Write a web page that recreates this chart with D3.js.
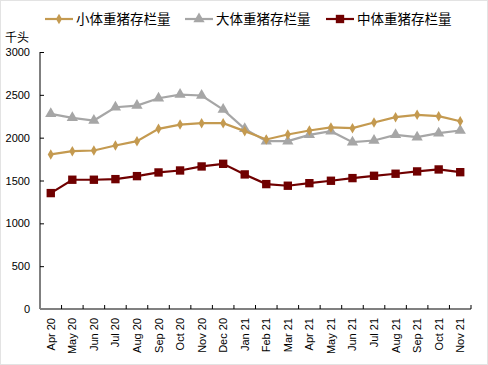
<!DOCTYPE html>
<html><head><meta charset="utf-8">
<script src="https://cdn.jsdelivr.net/npm/d3@7"></script>
<style>body{margin:0;background:#fff}svg{display:block}</style>
</head><body><svg id="c" width="488" height="365"></svg>
<script>
const categories = ["Apr 20","May 20","Jun 20","Jul 20","Aug 20","Sep 20","Oct 20","Nov 20","Dec 20","Jan 21","Feb 21","Mar 21","Apr 21","May 21","Jun 21","Jul 21","Aug 21","Sep 21","Oct 21","Nov 21"];
const small = [1804,1842,1850,1909,1959,2103,2153,2169,2169,2076,1979,2037,2084,2119,2111,2177,2239,2267,2251,2192];
const large = [2278,2232,2200,2355,2375,2460,2503,2492,2328,2103,1959,1959,2033,2076,1947,1967,2033,2006,2052,2084];
const medium = [1353,1509,1509,1516,1551,1594,1617,1664,1695,1571,1458,1439,1469,1497,1528,1555,1579,1606,1629,1597];
const yTicks = [0,500,1000,1500,2000,2500,3000];
const seriesNames = ["小体重猪存栏量","大体重猪存栏量","中体重猪存栏量"];

const svg = d3.select("#c");
svg.append("rect").attr("x",0.5).attr("y",0.5).attr("width",487).attr("height",364).attr("fill","#fff").attr("stroke","#e3e3e3");

const m = {l:40, r:471, t:52, b:309};
const x = d3.scaleBand().domain(categories).range([m.l, m.r]);
const y = d3.scaleLinear().domain([0,3000]).range([m.b, m.t]);
const font = "'Liberation Sans', Arial, sans-serif";

// y axis
const ya = svg.append("g").attr("transform",`translate(${m.l},0)`)
  .call(d3.axisLeft(y).tickValues(yTicks).tickFormat(d3.format("d")).tickSize(-4).tickPadding(10));
ya.select(".domain").attr("stroke","#000").attr("d",`M-0,${m.t}V${m.b}`);
ya.selectAll(".tick line").attr("stroke","#000");
ya.selectAll("text").attr("font-family",font).attr("font-size",11).attr("fill","#000").attr("dx","0");

// x axis
const xa = svg.append("g").attr("transform",`translate(0,${m.b})`);
xa.append("line").attr("x1",m.l).attr("x2",m.r).attr("stroke","#808080").attr("stroke-width",2);
const bounds = categories.map(c=>x(c)).concat([m.r]);
xa.selectAll("line.tk").data(bounds.slice(1)).join("line").attr("class","tk")
  .attr("x1",d=>d).attr("x2",d=>d).attr("y1",0).attr("y2",-4).attr("stroke","#000");
xa.selectAll("text").data(categories).join("text")
  .attr("transform",d=>`translate(${x(d)+x.bandwidth()/2+4},9) rotate(-90)`)
  .attr("text-anchor","end").attr("font-family",font).attr("font-size",11).attr("fill","#000")
  .text(d=>d);

// unit
svg.append("text").attr("x",5).attr("y",42).attr("font-family","'Noto Sans CJK SC', sans-serif").attr("font-size",12).text("千头");

const cx = d => x(d) + x.bandwidth()/2;
const line = d3.line().x((d,i)=>cx(categories[i])).y(d=>y(d));

const series = [
  {name:seriesNames[1], data:large, color:"#A6A6A6", shape:d3.symbolTriangle, size:55},
  {name:seriesNames[0], data:small, color:"#C49A50", shape:d3.symbolDiamond, size:32},
  {name:seriesNames[2], data:medium, color:"#700000", shape:d3.symbolSquare, size:70}
];
series.forEach(s=>{
  svg.append("path").datum(s.data).attr("d",line).attr("fill","none").attr("stroke",s.color).attr("stroke-width",2.2);
  svg.selectAll(null).data(s.data).join("path")
    .attr("transform",(d,i)=>`translate(${cx(categories[i])},${y(d)})`)
    .attr("d",d3.symbol().type(s.shape).size(s.size)).attr("fill",s.color);
});

// legend
const legend = [
  {name:seriesNames[0], color:"#C49A50", shape:d3.symbolDiamond, size:32, x:45},
  {name:seriesNames[1], color:"#A6A6A6", shape:d3.symbolTriangle, size:55, x:185},
  {name:seriesNames[2], color:"#700000", shape:d3.symbolSquare, size:70, x:326}
];
legend.forEach(l=>{
  const g = svg.append("g").attr("transform",`translate(${l.x},19)`);
  g.append("line").attr("x1",0).attr("x2",28).attr("stroke",l.color).attr("stroke-width",2.2);
  g.append("path").attr("transform","translate(14,0)").attr("d",d3.symbol().type(l.shape).size(l.size)).attr("fill",l.color);
  g.append("text").attr("x",31).attr("y",5).attr("font-family","'Noto Sans CJK SC', sans-serif").attr("font-size",13.5).text(l.name);
});
</script></body></html>
